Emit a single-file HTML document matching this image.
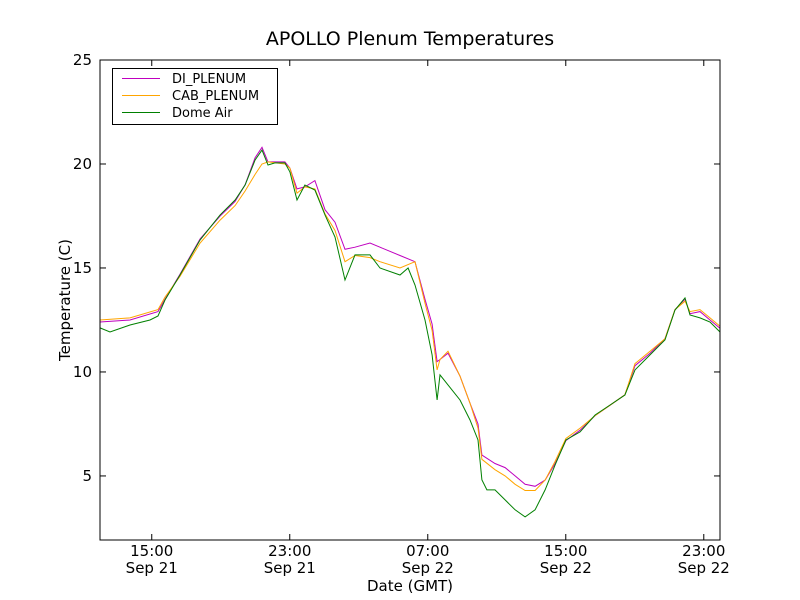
<!DOCTYPE html>
<html><head><meta charset="utf-8"><style>
body{margin:0;background:#fff;}
svg{display:block;font-family:"DejaVu Sans","Liberation Sans",sans-serif;}
</style></head><body>
<svg id="chart" width="800" height="600" viewBox="0 0 800 600">
<rect width="800" height="600" fill="#fff"/>
<text x="410" y="45" font-size="19" text-anchor="middle">APOLLO Plenum Temperatures</text>
<g id="plot"></g>
<text x="410" y="591" font-size="15" text-anchor="middle">Date (GMT)</text>
<text transform="translate(70,300) rotate(-90)" font-size="15" text-anchor="middle">Temperature (C)</text>
</svg>
<script>
const yTicks=[5,10,15,20,25];
const xTickHours=[3,11,19,27,35];
const xTickTimes=["15:00","23:00","07:00","15:00","23:00"];
const xTickDates=["Sep 21","Sep 21","Sep 22","Sep 22","Sep 22"];
const seriesNames=["DI_PLENUM","CAB_PLENUM","Dome Air"];
const seriesColors=["#bf00bf","#ffa500","#008000"];
const diT=[0,1.74,3.36,3.77,4.64,5.8,6.96,7.83,8.41,8.99,9.39,9.74,10.72,11.01,11.42,11.88,12.46,13.04,13.62,14.2,14.78,15.65,16.23,17.39,18.26,18.84,19.25,19.54,19.71,20.17,20.87,21.45,21.91,22.14,22.9,23.48,24.06,24.64,25.22,25.8,26.38,27.01,27.83,28.7,29.57,30.43,31.01,31.88,32.75,33.33,33.91,34.2,34.78,35.36,35.94];
const diV=[12.4,12.5,12.9,13.5,14.7,16.4,17.5,18.2,19.0,20.3,20.8,20.1,20.1,19.8,18.8,18.9,19.2,17.8,17.2,15.9,16.0,16.2,16.0,15.6,15.3,13.5,12.3,10.5,10.6,10.9,9.8,8.5,7.5,6.0,5.6,5.4,5.0,4.6,4.5,4.8,5.6,6.7,7.2,7.9,8.4,8.9,10.3,10.9,11.6,13.0,13.5,12.8,12.9,12.5,12.1];
const cabT=diT;
const cabV=[12.5,12.6,13.0,13.6,14.6,16.2,17.3,18.0,18.7,19.5,20.0,20.1,20.0,19.8,18.6,18.9,18.8,17.6,16.8,15.3,15.6,15.5,15.3,15.0,15.3,13.3,12.0,10.1,10.6,11.0,9.8,8.5,7.3,5.8,5.3,5.0,4.6,4.3,4.3,4.8,5.7,6.8,7.3,7.9,8.4,8.9,10.4,11.0,11.6,13.0,13.4,12.9,13.0,12.6,12.2];
const domeT=[0,0.58,1.74,2.9,3.36,3.77,4.64,5.8,6.96,7.83,8.41,8.99,9.39,9.74,10.14,10.72,11.01,11.42,11.88,12.46,13.04,13.62,14.2,14.78,15.65,16.23,17.39,17.86,18.26,18.84,19.25,19.54,19.71,20.17,20.87,21.45,21.91,22.14,22.43,22.9,23.48,24.06,24.64,25.22,25.8,26.38,27.01,27.83,28.7,29.57,30.43,31.01,31.88,32.75,33.33,33.91,34.2,34.78,35.36,35.94];
const domeV=[12.12,11.92,12.26,12.5,12.69,13.46,14.66,16.35,17.55,18.27,18.99,20.19,20.67,19.95,20.05,20.05,19.62,18.27,18.99,18.75,17.55,16.49,14.42,15.63,15.63,15.0,14.66,15.0,14.18,12.5,10.82,8.65,9.86,9.38,8.65,7.69,6.73,4.81,4.33,4.33,3.85,3.37,3.03,3.37,4.33,5.53,6.73,7.12,7.93,8.41,8.89,10.1,10.82,11.54,12.98,13.56,12.74,12.6,12.4,11.92];
const X0=100,X1=720,Y0=60,Y1=540,H0=0,H1=35.94,V0=1.92,V1=25;
const xs=h=>X0+(h-H0)/(H1-H0)*(X1-X0);
const ys=v=>Y1-(v-V0)/(V1-V0)*(Y1-Y0);
const NS="http://www.w3.org/2000/svg";
const plot=document.getElementById('plot');
function mk(t,a,p){const e=document.createElementNS(NS,t);for(const k in a)e.setAttribute(k,a[k]);(p||plot).appendChild(e);return e;}
const sets=[[diT,diV],[cabT,cabV],[domeT,domeV]];
sets.forEach((s,i)=>{
 const d=s[0].map((t,j)=>(j?'L':'M')+xs(t).toFixed(1)+','+ys(s[1][j]).toFixed(1)).join('');
 const p=mk('path',{d:d,fill:'none',stroke:seriesColors[i],'stroke-width':1});
 
 
});
const frame=mk('rect',{x:X0,y:Y0,width:X1-X0,height:Y1-Y0,fill:'none',stroke:'#000','stroke-width':1});


yTicks.forEach(v=>{
 const y=ys(v);
 mk('line',{x1:X0,x2:X0+6,y1:y,y2:y,stroke:'#000'});
 mk('line',{x1:X1,x2:X1-6,y1:y,y2:y,stroke:'#000'});
 const t=mk('text',{x:X0-8,y:y+5,'font-size':15,'text-anchor':'end'});
 t.textContent=v;
 
 
});
xTickHours.forEach((h,i)=>{
 const x=xs(h);
 mk('line',{x1:x,x2:x,y1:Y1,y2:Y1-6,stroke:'#000'});
 mk('line',{x1:x,x2:x,y1:Y0,y2:Y0+6,stroke:'#000'});
 const t=mk('text',{x:x,y:556,'font-size':15,'text-anchor':'middle'});
 t.textContent=xTickTimes[i];
 
 
 const t2=mk('text',{x:x,y:573,'font-size':15,'text-anchor':'middle'});
 t2.textContent=xTickDates[i];
 
 
});
const lg=mk('g',{});


mk('rect',{x:112.5,y:68.5,width:165,height:56,fill:'#fff',stroke:'#000'},lg);
seriesNames.forEach((n,i)=>{
 const y=78+i*17;
 mk('line',{x1:122,x2:160,y1:y+0.5,y2:y+0.5,stroke:seriesColors[i]},lg);
 const t=mk('text',{x:172,y:y+5,'font-size':13},lg);
 t.textContent=n;
 
 
});
</script>
</body></html>
